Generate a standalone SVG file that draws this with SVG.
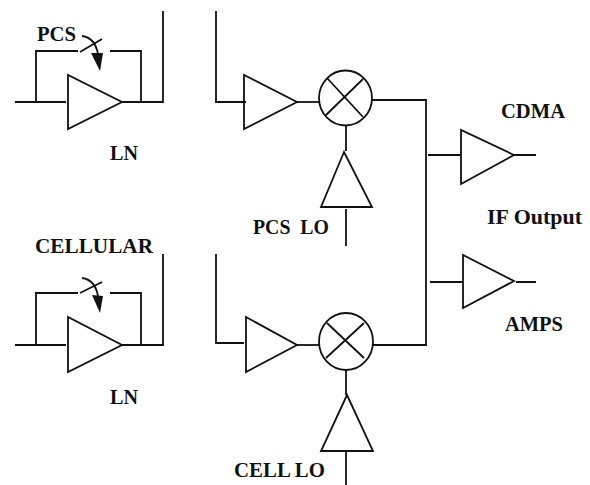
<svg xmlns="http://www.w3.org/2000/svg" width="590" height="485" viewBox="0 0 590 485">
<style>
.l{fill:none;stroke:#111;stroke-width:1.8;stroke-linejoin:miter}
.t{font-family:"Liberation Serif","Times New Roman",serif;font-weight:bold;font-size:20px;fill:#111}
</style>
<rect width="590" height="485" fill="#fff"/>
<g id="connectors" class="l">
<path d="M15 102H66M36 102V51H78M110 51H141V102M122 102H163V11"/>
<path d="M216 11V102H246"/>
<path d="M297 102H319"/>
<path d="M372 100H426V345H373"/>
<path d="M346 126V151M346 209V246"/>
<path d="M428 155H461M514 155H536"/>
<path d="M430 282H463M516 282H536"/>
<path d="M15 345H66M36 345V293H78M110 293H141V345M122 345H163V254"/>
<path d="M216 254V343H244"/>
<path d="M297 345H319"/>
<path d="M346 370V395M346 451V485"/>
</g>
<g id="lna-pcs">
<path class="l" d="M68 75V129L122 102Z"/>
<path class="l" d="M80 52L102 39M82 36C90 37 96 43 98 54"/>
<path d="M91 53L103 53L100 71Z" fill="#111"/>
<text class="t" x="37" y="41" textLength="39" lengthAdjust="spacingAndGlyphs">PCS</text>
<text class="t" x="110" y="160" textLength="28" lengthAdjust="spacingAndGlyphs">LN</text>
</g>
<g id="lna-cellular">
<path class="l" d="M68 317V372L122 345Z"/>
<path class="l" d="M80 293L102 282M82 278C90 279 96 285 98 296"/>
<path d="M92 295L103 296L100 313Z" fill="#111"/>
<text class="t" x="35" y="253" textLength="118" lengthAdjust="spacingAndGlyphs">CELLULAR</text>
<text class="t" x="110" y="404" textLength="28" lengthAdjust="spacingAndGlyphs">LN</text>
</g>
<g id="amp-pcs"><path class="l" d="M244 75V129L297 102Z"/></g>
<g id="amp-cell"><path class="l" d="M246 317V372L297 345Z"/></g>
<g id="mixer-pcs">
<ellipse class="l" cx="345.500" cy="98" rx="26.500" ry="27.500"/>
<path class="l" d="M327 78L363 117M325 116L363 79"/>
</g>
<g id="mixer-cell">
<ellipse class="l" cx="346" cy="341.500" rx="27" ry="28.500"/>
<path class="l" d="M327 323L364 358M326 358L364 323"/>
</g>
<g id="lo-pcs">
<path class="l" d="M344 152L321 207H372Z"/>
<text class="t" x="253" y="234" textLength="76" lengthAdjust="spacingAndGlyphs" xml:space="preserve">PCS  LO</text>
</g>
<g id="lo-cell">
<path class="l" d="M347 395L321 451H373Z"/>
<text class="t" x="234" y="477" textLength="91" lengthAdjust="spacingAndGlyphs">CELL LO</text>
</g>
<g id="amp-cdma">
<path class="l" d="M461 130V184L514 155Z"/>
<text class="t" x="501" y="118" textLength="64" lengthAdjust="spacingAndGlyphs">CDMA</text>
</g>
<g id="amp-amps">
<path class="l" d="M463 255V308L514 281Z"/>
<text class="t" x="505" y="331" textLength="58" lengthAdjust="spacingAndGlyphs">AMPS</text>
</g>
<text class="t" id="if-output" x="487" y="224" textLength="95" lengthAdjust="spacingAndGlyphs">IF Output</text>
</svg>
